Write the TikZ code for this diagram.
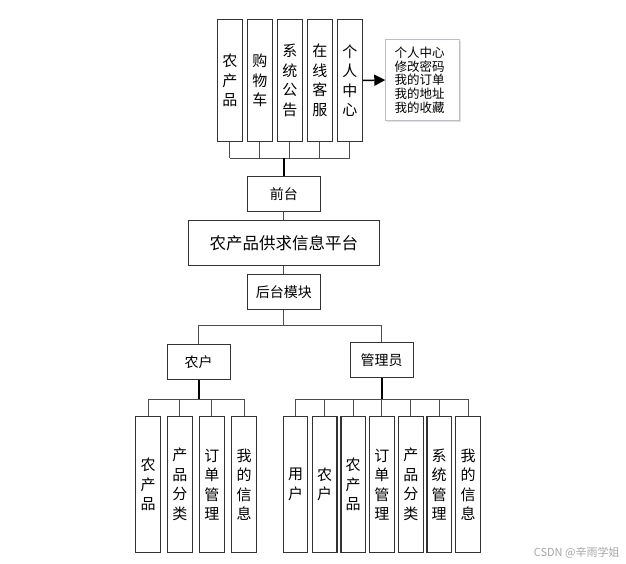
\documentclass[tikz,border=0pt]{standalone}
\usepackage{fontspec}
\newfontfamily\cjk{Noto Sans CJK SC}
\usetikzlibrary{positioning,arrows.meta,shadows}

\begin{document}
\begin{tikzpicture}[x=1pt, y=-1pt, >=Stealth,
  colBox/.style={draw=black!80, line width=1.1pt, inner sep=0pt, align=center,
               minimum width=25pt, font=\cjk\fontsize{15}{19.5}\selectfont},
  topCol/.style={colBox, minimum height=122.4pt},
  lowCol/.style={colBox, minimum height=135.6pt},
  rowBox/.style={draw=black!80, line width=1.1pt, inner sep=0pt, align=center,
               font=\cjk\fontsize{14}{16}\selectfont},
  noteBox/.style={draw=blue!15!gray!45, fill=white, line width=0.8pt, align=left,
               text width=56pt, minimum width=73.6pt, minimum height=81.4pt, inner sep=0pt,
               drop shadow={opacity=0.25, shadow xshift=1.5pt, shadow yshift=-1.5pt},
               font=\cjk\fontsize{12.5}{13.7}\selectfont},
  conn/.style={draw=black!70, line width=0.8pt},
  trunk/.style={draw=black, line width=1.8pt},
]
\useasboundingbox (0,0) rectangle (626,564);

% front-end modules
\node[topCol] (fNong)  at (229.8,80.5) {农\\产\\品};
\node[topCol] (fCart)  at (259.8,80.5) {购\\物\\车};
\node[topCol] (fNews)  at (289.8,80.5) {系\\统\\公\\告};
\node[topCol] (fServ)  at (319.8,80.5) {在\\线\\客\\服};
\node[topCol] (fUser)  at (349.8,80.5) {个\\人\\中\\心};
\node[noteBox] (uNote) at (422.5,80) {个人中心\\修改密码\\我的订单\\我的地址\\我的收藏};
\draw[-{Triangle[length=11pt,width=11pt]}, line width=1.5pt] (fUser.east) -- (uNote.west);

\node[rowBox, minimum width=73pt, minimum height=34.5pt] (front) at (283.8,193.8) {前台};
\node[rowBox, minimum width=191pt, minimum height=45pt,
      font=\cjk\fontsize{16.5}{18}\selectfont] (plat) at (283.8,243.2) {农产品供求信息平台};
\node[rowBox, minimum width=73pt, minimum height=35pt] (back) at (283.8,291.8) {后台模块};

\coordinate (fBus) at (283.8,158.3);
\foreach \n in {fNong,fCart,fNews,fServ,fUser}
  \draw[conn] (\n.south) -- (\n.south |- fBus);
\draw[conn] (fNong.south |- fBus) -- (fUser.south |- fBus);
\draw[trunk] (fBus) -- (front.north);
\draw[conn] (front) -- (plat);
\draw[conn] (plat) -- (back);

% back-end roles
\node[rowBox, minimum width=62.7pt, minimum height=34.7pt] (farmer) at (198.7,361.7) {农户};
\node[rowBox, minimum width=63.3pt, minimum height=35pt] (admin) at (381.7,359.8) {管理员};
\coordinate (bBus) at (283.8,325);
\draw[conn] (back) -- (bBus);
\draw[conn] (farmer.north) -- (farmer.north |- bBus) -- (admin.north |- bBus) -- (admin.north);

% farmer functions
\node[lowCol] (nProd) at (148.2,484.5) {农\\产\\品};
\node[lowCol] (nCat)  at (179.8,484.5) {产\\品\\分\\类};
\node[lowCol] (nOrd)  at (211.8,484.5) {订\\单\\管\\理};
\node[lowCol] (nInfo) at (244.2,484.5) {我\\的\\信\\息};
\coordinate (nBus) at (198.7,399.3);
\foreach \n in {nProd,nCat,nOrd,nInfo}
  \draw[conn] (\n.north) -- (\n.north |- nBus);
\draw[conn] (nProd.north |- nBus) -- (nInfo.north |- nBus);
\draw[trunk] (farmer.south) -- (nBus);

% admin functions
\node[lowCol, minimum width=24.5pt] (aUser) at (295.5,484.5) {用\\户};
\node[lowCol, minimum width=24.5pt] (aFarm) at (324.7,484.5) {农\\户};
\node[lowCol, minimum width=24.5pt] (aProd) at (353.2,484.5) {农\\产\\品};
\node[lowCol, minimum width=24.5pt] (aOrd)  at (381.8,484.5) {订\\单\\管\\理};
\node[lowCol, minimum width=24.5pt] (aCat)  at (410.8,484.5) {产\\品\\分\\类};
\node[lowCol, minimum width=24.5pt] (aSys)  at (439.2,484.5) {系\\统\\管\\理};
\node[lowCol, minimum width=24.5pt] (aInfo) at (468,484.5) {我\\的\\信\\息};
\coordinate (aBus) at (381.7,399.3);
\foreach \n in {aUser,aFarm,aProd,aOrd,aCat,aSys,aInfo}
  \draw[conn] (\n.north) -- (\n.north |- aBus);
\draw[conn] (aUser.north |- aBus) -- (aInfo.north |- aBus);
\draw[trunk] (admin.south) -- (aBus);

\node[text=black!35, font=\cjk\fontsize{11}{12}\selectfont] (mark) at (576.7,552.7) {CSDN @辛雨学姐};
\end{tikzpicture}
\end{document}
